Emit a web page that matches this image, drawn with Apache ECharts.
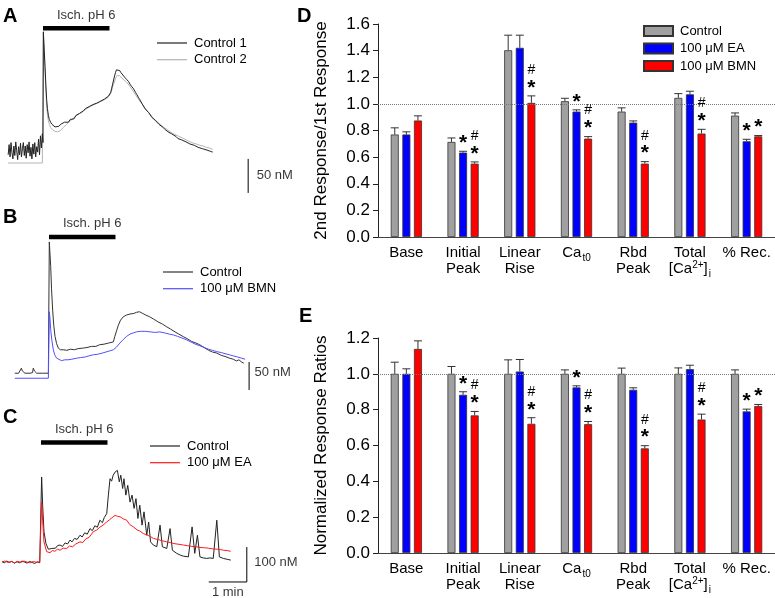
<!DOCTYPE html>
<html>
<head>
<meta charset="utf-8">
<script src="https://cdn.jsdelivr.net/npm/echarts@6/dist/echarts.min.js"></script>
<style>
html, body { margin: 0; padding: 0; background: #fff; }
#chart { width: 775px; height: 598px; }
</style>
</head>
<body>
<div id="chart"></div>
<script>
// ---- bar panels (D, E) ----
var categories = ['Base', 'Initial Peak', 'Linear Rise', 'Ca t0', 'Rbd Peak', 'Total [Ca2+]i', '% Rec.'];
var groupNames = ['Control', '100 μM EA', '100 μM BMN'];

var dControl = [0.77, 0.714, 1.403, 1.02, 0.942, 1.045, 0.912];
var dControlErr = [0.05, 0.03, 0.113, 0.022, 0.028, 0.032, 0.02];
var dEA = [0.77, 0.634, 1.421, 0.942, 0.859, 1.072, 0.719];
var dEAErr = [0.02, 0.01, 0.095, 0.013, 0.013, 0.023, 0.015];
var dBMN = [0.875, 0.551, 1.007, 0.739, 0.551, 0.777, 0.756];
var dBMNErr = [0.035, 0.013, 0.053, 0.015, 0.015, 0.032, 0.006];

var eControl = [1, 1, 1, 1, 1, 1, 1];
var eControlErr = [0.065, 0.041, 0.078, 0.022, 0.032, 0.033, 0.022];
var eEA = [1.0, 0.883, 1.013, 0.924, 0.911, 1.026, 0.79];
var eEAErr = [0.028, 0.017, 0.067, 0.009, 0.011, 0.022, 0.013];
var eBMN = [1.139, 0.768, 0.721, 0.719, 0.584, 0.745, 0.82];
var eBMNErr = [0.045, 0.022, 0.034, 0.015, 0.015, 0.03, 0.009];

// significance marks (* vs control, # vs EA)
var sigNone = ['', '', '', '', '', '', ''];
var sigEA = ['', '*', '', '*', '', '', '*'];
var sigBMN = ['', '#*', '#*', '#*', '#*', '#*', '*'];

// ---- traces (A, B, C): [time s from ischemia onset, nM above baseline] ----
var aControl1 = [[-55,12],[-53.5,27],[-52,9],[-50.5,30],[-49,15],[-47.5,6],[-46,25],[-44.5,11],[-43,31],[-41.5,18],[-40,5],[-38.5,24],[-37,12],[-35.5,29],[-34,9],[-32.5,21],[-31,30],[-29.5,11],[-28,25],[-26.5,7],[-25,27],[-23.5,15],[-22,31],[-20.5,10],[-19,23],[-17.5,6],[-16,28],[-14.5,13],[-13,30],[-11.5,9],[-10,24],[-8.5,16],[-7,35],[-5.5,12],[-4,40],[-2.5,22],[-1,43],[0,30],
  [0.6,193],[2,165],[3.2,142],[4.5,115],[5.8,93],[7,80],[8.5,70],[10,64],[12,60],[14,57],[16,55],[19,53],[22,55],[25,54],[28,57],[31,56],[34,60],[37,61],[40,60],[43,64],[46,66],[49,65],[52,70],[55,71],[58,73],[61,75],[64,77],[67,80],[70,79],[73,83],[76,84],[79,86],[82,87],[85,88],[88,90],[91,91],[94,93],[97,94],[100,96],[103,98],[105.5,100],[107,104],[108.5,110],[110,116],[111.5,122],[113,128],[114.5,133],[116,137],[117.4,139],[119,138],[121,136],[123,133],[126,131],[129,126],[132,123],[135,120],[138,115],[140.5,112],[143,109],[146,104],[148,101],[151,96],[153,93],[156,88],[158,86],[161,80],[164,78],[167,74],[169,72],[172,67],[174,66],[177,63],[180,61],[183,57],[186,55],[190,52],[193,49],[196,48],[199,45],[203,43],[206,41],[210,39],[213,36],[216,35],[219,34],[222,33],[226,31],[229,30],[232,28],[235,27],[239,26],[242,25],[245,23],[248,23],[252,21],[255,21],[259,19],[262,18],[265,17],[268,16]];
var aControl2 = [[-55,0],[-1,0],[0.6,190],[2,160],[3.2,137],[4.5,108],[5.8,83],[7,71],[8.5,62],[10,57],[12,52],[15,49],[19,46.5],[23,46],[27,47.4],[32,52],[37.4,57],[42,61],[47,65],[52,69],[58,73],[63.7,76],[69,80],[75,83],[81,86],[86,88],[90,90],[95,92],[98,94],[102,96],[104.8,97.5],[106.5,101],[108.5,107],[111,115],[113.8,122],[115.5,126],[117.4,129],[121,128],[124,125.5],[128,122],[132,119],[137,113],[142,106],[147,99],[153,91],[158,85],[164,77],[169,72],[174,66],[180,61],[185,57],[190,53],[195.5,49.5],[202,45],[208,42],[215,39],[222,36],[228,33],[235,30],[242,28],[248,26],[253,25],[258,23],[263,22],[268,20]];

var bControl = [[-54,9],[-48,9],[-45,10],[-43.6,18],[-42,13],[-40,10],[-38,9],[-30,9],[-26,10],[-24.8,18],[-23,13],[-21,10],[-19.4,9],[-10,9],[-1,9],[0.5,244],[2.7,200],[4,160],[5.8,122],[7.5,95],[9.5,75],[12,62],[14.7,54],[18,51],[22.6,51],[28,50],[34,52],[40,51],[46,53],[54,54],[60,55],[67,57],[74,57],[80,60],[87,61],[94,63],[101.6,65],[104,75],[107,86],[109.5,95],[113,104],[117.4,110],[122,113],[128,115],[134,116],[138,118],[143,119],[148,116],[153,113],[159,110],[165,106],[172,101],[179,97],[186,92],[192,88],[199,83],[205,79],[212,74.5],[218,71],[225,66],[232,63],[238,60],[245,55],[252,50],[258,47],[265,45],[272,41],[278,39],[285,36],[291,34],[296,31],[300,33],[304,29],[307.6,27]];
var bBMN = [[-54,0],[-1,0],[0.5,119],[1.5,108],[2.7,87],[4.5,68],[6.8,51],[9,42],[12,36],[15,33],[19.7,31.5],[25,33],[30,33],[36,34],[44,36],[50,37],[57,38],[63,40],[70,42],[77,43],[84,45],[90,47],[96,49],[101.6,51],[106,55],[112,63],[117,69],[122.6,75],[128,79],[133,81],[138,83],[145,84],[152,84],[160,83],[167,82],[175,83],[183,81],[190,79],[196.4,77.5],[203,75],[210,72],[217.5,68.6],[224,65],[231,61],[238.6,58],[245,55],[252,52],[258,50],[265,47.6],[272,46],[278,44],[285,42],[291,40],[298,38],[304,36],[309.6,34]];

var cControl = [[-62,2],[-58,-2],[-54,3],[-50,-1],[-46,2],[-42,-3],[-38,1],[-34,-2],[-30,3],[-26,0],[-22,-3],[-18,2],[-14,-1],[-10,-4],[-6,1],[-2,-2],[0,-3],[1,244],[2.6,163],[4.7,87],[7.9,53],[11.6,37],[14,42],[17,39],[20,44],[23,40],[26,47],[30,49],[34,45],[38,55],[42,52],[45.8,63],[49,58],[53,68],[57,65],[61.6,77],[65,72],[69,84],[73,80],[77.4,96],[81,90],[85,104],[89,100],[93,120],[97,113],[100,128],[103.8,139],[106.4,192],[109,239],[111.5,232],[114,249],[117,258],[120.6,263],[123.7,230],[126,249],[129,211],[131,239],[134,192],[137,220],[140.6,172],[143.8,192],[147,154],[150,182],[153,125],[156,163],[159.6,106],[162.7,144],[167,77],[170,115],[173,58],[177.4,49],[182.8,44],[188,106],[191.7,44],[198.6,39],[203.8,96],[207.5,34],[214.4,25],[220,20],[224.8,17],[232.7,15],[238.6,101],[242.8,25],[247,77],[251,15],[256,12],[261.8,10.5],[267,12],[272,10.5],[277.6,120],[281.7,15],[288,10.5],[294,8],[299.7,5.7]];
var cEA = [[-62,0],[-57,3],[-52,-1],[-47,2],[-42,-2],[-37,2],[-32,-1],[-27,3],[-22,0],[-17,-2],[-12,2],[-7,-1],[-2,1],[0,0],[1,172],[2.6,120],[4.7,58],[8.9,30],[14.2,27],[18,33],[22,31],[26,37],[30,34],[35,40],[40.6,39],[45,46],[50,44],[55,52],[61.6,58],[66,56],[71,67],[76,71],[82.6,87],[88,92],[93,100],[98,106],[103.8,115],[108,121],[112,127],[117,134],[121,131],[124.8,130],[130,124],[135.4,120],[140,108],[145.8,101],[152,92],[156,89],[161.6,82],[168,77],[172,74],[177.4,68],[186,64],[192,61],[198.6,58],[204,56],[210,53],[218,51],[224.8,49],[231,47],[238,45],[245,44],[251,42],[258,41],[264,40],[271,38],[277.6,37],[283,36],[288,34],[294,33],[299.7,31]];

// ischemia period (s) and scale bars
var ischemia = [0, 105];
var scaleA = 50, scaleB = 50, scaleC = 100, scaleT = 60;

var FONT = 'Liberation Sans, Arial, sans-serif';
var BAR_W = 8, BAR_GAP = 0.45, BAR_STEP = BAR_W * (1 + BAR_GAP);

var catLabel = {
  'Base': 'Base',
  'Initial Peak': 'Initial\nPeak',
  'Linear Rise': 'Linear\nRise',
  'Ca t0': '{n|Ca}{sub|t0}',
  'Rbd Peak': 'Rbd\nPeak',
  'Total [Ca2+]i': 'Total\n{n|[Ca}{sup|2+}{n|]}{sub|i}',
  '% Rec.': '% Rec.'
};

function traceAxes(min, max) {
  return { type: 'value', show: false, min: min, max: max };
}

function traceLine(idx, name, data, color) {
  return {
    type: 'line', name: name, xAxisIndex: idx, yAxisIndex: idx, data: data,
    symbol: 'none', showSymbol: false, silent: true, clip: false,
    lineStyle: { color: color, width: 1 }, itemStyle: { color: color }
  };
}

function plainLine(idx, data, width) {
  return {
    type: 'line', xAxisIndex: idx, yAxisIndex: idx, data: data,
    symbol: 'none', silent: true, clip: false,
    lineStyle: { color: '#000', width: width }
  };
}

function textPt(idx, pt, text, pos, dist, offset) {
  return {
    type: 'scatter', xAxisIndex: idx, yAxisIndex: idx, silent: true, clip: false,
    symbol: 'circle', symbolSize: 1, itemStyle: { color: 'rgba(0,0,0,0)' },
    data: [pt],
    label: {
      show: true, formatter: text, position: pos, distance: dist, offset: offset || [0, 0],
      color: '#000', fontSize: 13, fontFamily: FONT
    }
  };
}

function barSeries(idx, name, data, color, withRef) {
  var s = {
    type: 'bar', name: name, xAxisIndex: idx, yAxisIndex: idx, data: data,
    barWidth: BAR_W, barGap: '45%', silent: true,
    itemStyle: { color: color, borderColor: '#333', borderWidth: 0.8 }
  };
  if (withRef) {
    s.markLine = {
      silent: true, symbol: 'none', label: { show: false },
      lineStyle: { color: '#777', type: 'dotted', width: 1 },
      data: [{ yAxis: 1 }]
    };
  }
  return s;
}

function errSeries(idx, group, vals, errs, sig) {
  return {
    type: 'custom', xAxisIndex: idx, yAxisIndex: idx, z: 5, silent: true,
    data: vals.map(function (v, i) { return [i, v, errs[i]]; }),
    renderItem: function (params, api) {
      var i = api.value(0), v = api.value(1), e = api.value(2);
      var p0 = api.coord([i, v]);
      var p1 = api.coord([i, v + e]);
      var cx = p0[0] + (group - 1) * BAR_STEP;
      var kids = [
        { type: 'line', shape: { x1: cx, y1: p0[1], x2: cx, y2: p1[1] }, style: { stroke: '#333', lineWidth: 1 } },
        { type: 'line', shape: { x1: cx - 4, y1: p1[1], x2: cx + 4, y2: p1[1] }, style: { stroke: '#333', lineWidth: 1 } }
      ];
      var s = sig[params.dataIndex];
      if (s.indexOf('*') >= 0) {
        kids.push({ type: 'text', style: { text: '*', x: cx, y: p1[1] - 8, align: 'center', verticalAlign: 'middle', font: 'bold 21px ' + FONT, fill: '#000' } });
      }
      if (s.indexOf('#') >= 0) {
        kids.push({ type: 'text', style: { text: '#', x: cx, y: p1[1] - 26, align: 'center', verticalAlign: 'middle', font: '14px ' + FONT, fill: '#000' } });
      }
      return { type: 'group', children: kids };
    }
  };
}

function barXAxis(idx) {
  return {
    type: 'category', gridIndex: idx, data: categories,
    axisTick: { show: false },
    axisLine: { lineStyle: { color: '#444', width: 1 } },
    axisLabel: {
      interval: 0, margin: 8, color: '#000', fontSize: 15, lineHeight: 16, fontFamily: FONT,
      formatter: function (v) { return catLabel[v]; },
      rich: {
        n: { fontSize: 15, fontFamily: FONT, color: '#000' },
        sub: { fontSize: 10, fontFamily: FONT, color: '#000', padding: [10, 0, 0, 1] },
        sup: { fontSize: 10, fontFamily: FONT, color: '#000', padding: [0, 0, 8, 0] }
      }
    }
  };
}

function barYAxis(idx, max, name) {
  return {
    type: 'value', gridIndex: idx, min: 0, max: max, interval: 0.2,
    name: name, nameLocation: 'middle', nameGap: 48,
    nameTextStyle: { fontSize: 17, fontFamily: FONT, color: '#000' },
    splitLine: { show: false },
    axisLine: { show: true, lineStyle: { color: '#222', width: 1 } },
    axisTick: { show: true, length: 5, lineStyle: { color: '#222' } },
    axisLabel: {
      margin: 8, color: '#000', fontSize: 17, fontFamily: FONT,
      formatter: function (v) { return v.toFixed(1); }
    }
  };
}

function traceLegend(names, left, top) {
  return {
    data: names, left: left, top: top, orient: 'vertical', padding: 0,
    icon: 'rect', itemWidth: 30, itemHeight: 1.2, itemGap: 2.7, selectedMode: false,
    textStyle: { fontSize: 13, fontFamily: FONT, color: '#000', lineHeight: 14, padding: [0, 0, 0, 2] },
    formatter: function (n) { return n.split('|')[1]; }
  };
}

var chart = echarts.init(document.getElementById('chart'));
var isoMid = (ischemia[0] + ischemia[1]) / 2;

chart.setOption({
  animation: false,
  backgroundColor: '#fff',
  grid: [
    { left: 5, top: 27, width: 253.3, height: 170, outerBoundsMode: 'none' },
    { left: 11, top: 233, width: 253.3, height: 162, outerBoundsMode: 'none' },
    { left: 3, top: 440, width: 253.3, height: 150, outerBoundsMode: 'none' },
    { left: 378, top: 24, right: 0, height: 213, outerBoundsMode: 'none' },
    { left: 378, top: 338, right: 0, height: 215, outerBoundsMode: 'none' }
  ],
  xAxis: [
    Object.assign(traceAxes(-60, 340), { gridIndex: 0 }),
    Object.assign(traceAxes(-60, 340), { gridIndex: 1 }),
    Object.assign(traceAxes(-60, 340), { gridIndex: 2 }),
    barXAxis(3),
    barXAxis(4)
  ],
  yAxis: [
    Object.assign(traceAxes(-50, 200), { gridIndex: 0 }),
    Object.assign(traceAxes(-30, 260), { gridIndex: 1 }),
    Object.assign(traceAxes(-80, 350), { gridIndex: 2 }),
    barYAxis(3, 1.6, '2nd Response/1st Response'),
    barYAxis(4, 1.2, 'Normalized Response Ratios')
  ],
  legend: [
    traceLegend(['A|Control 1', 'A|Control 2'], 157, 36),
    traceLegend(['B|Control', 'B|100 μM BMN'], 163, 265),
    traceLegend(['C|Control', 'C|100 μM EA'], 150, 439),
    {
      data: groupNames, left: 643, top: 24, orient: 'vertical', padding: 0,
      itemWidth: 29, itemHeight: 10, itemGap: 3.5, icon: 'rect', selectedMode: false,
      textStyle: { fontSize: 13, fontFamily: FONT, color: '#000', lineHeight: 14, padding: [0, 0, 0, 2] }
    }
  ],
  graphic: [
    { type: 'text', left: 3, top: 6, style: { text: 'A', font: 'bold 20px ' + FONT, fill: '#000' } },
    { type: 'text', left: 3, top: 207, style: { text: 'B', font: 'bold 20px ' + FONT, fill: '#000' } },
    { type: 'text', left: 3, top: 407, style: { text: 'C', font: 'bold 20px ' + FONT, fill: '#000' } },
    { type: 'text', left: 297, top: 6, style: { text: 'D', font: 'bold 20px ' + FONT, fill: '#000' } },
    { type: 'text', left: 299, top: 306, style: { text: 'E', font: 'bold 20px ' + FONT, fill: '#000' } }
  ],
  series: [
    // A
    traceLine(0, 'A|Control 2', aControl2, '#b4b4b4'),
    traceLine(0, 'A|Control 1', aControl1, '#222'),
    plainLine(0, [[ischemia[0], 198], [ischemia[1], 198]], 4.5),
    textPt(0, [isoMid, 198], 'Isch. pH 6', 'top', 6, [10, 0]),
    plainLine(0, [[324, -44], [324, -44 + scaleA]], 1),
    textPt(0, [324, -19], scaleA + ' nM', 'right', 8),
    // B
    traceLine(1, 'B|Control', bControl, '#333'),
    traceLine(1, 'B|100 μM BMN', bBMN, '#5050ff'),
    plainLine(1, [[ischemia[0], 253], [ischemia[1], 253]], 4.5),
    textPt(1, [isoMid, 253], 'Isch. pH 6', 'top', 6, [10, 0]),
    plainLine(1, [[316, -21], [316, -21 + scaleB]], 1),
    textPt(1, [316, 11], scaleB + ' nM', 'right', 5),
    // C
    traceLine(2, 'C|Control', cControl, '#222'),
    traceLine(2, 'C|100 μM EA', cEA, '#ff1a1a'),
    plainLine(2, [[ischemia[0], 343], [ischemia[1], 343]], 4.5),
    textPt(2, [isoMid, 343], 'Isch. pH 6', 'top', 6, [10, 0]),
    plainLine(2, [[325 - scaleT, -57], [325, -57], [325, -57 + scaleC]], 1),
    textPt(2, [325, 0], scaleC + ' nM', 'right', 7),
    textPt(2, [325 - scaleT / 2, -57], '1 min', 'bottom', 3, [0, 0]),
    // D
    barSeries(3, groupNames[0], dControl, '#a0a0a0', true),
    barSeries(3, groupNames[1], dEA, '#0000ff'),
    barSeries(3, groupNames[2], dBMN, '#ff0000'),
    errSeries(3, 0, dControl, dControlErr, sigNone),
    errSeries(3, 1, dEA, dEAErr, sigEA),
    errSeries(3, 2, dBMN, dBMNErr, sigBMN),
    // E
    barSeries(4, groupNames[0], eControl, '#a0a0a0', true),
    barSeries(4, groupNames[1], eEA, '#0000ff'),
    barSeries(4, groupNames[2], eBMN, '#ff0000'),
    errSeries(4, 0, eControl, eControlErr, sigNone),
    errSeries(4, 1, eEA, eEAErr, sigEA),
    errSeries(4, 2, eBMN, eBMNErr, sigBMN)
  ]
});
</script>
</body>
</html>
